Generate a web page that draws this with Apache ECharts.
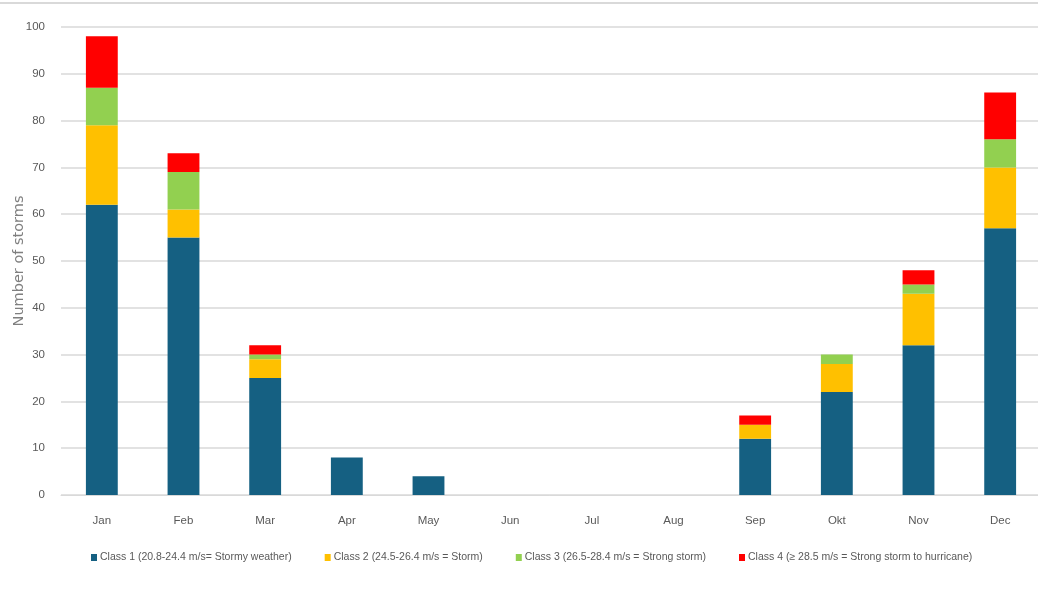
<!DOCTYPE html>
<html><head><meta charset="utf-8">
<script src="https://cdn.jsdelivr.net/npm/echarts@6/dist/echarts.min.js"></script>
<style>html,body{margin:0;padding:0;background:#fff}#c{width:1038px;height:589px}</style>
</head><body><div id="c"></div>
<script>
const months = ['Jan','Feb','Mar','Apr','May','Jun','Jul','Aug','Sep','Okt','Nov','Dec'];
const class1 = [62, 55, 25, 8, 4, 0, 0, 0, 12, 22, 32, 57];
const class2 = [17, 6, 4, 0, 0, 0, 0, 0, 3, 6, 11, 13];
const class3 = [8, 8, 1, 0, 0, 0, 0, 0, 0, 2, 2, 6];
const class4 = [11, 4, 2, 0, 0, 0, 0, 0, 2, 0, 3, 10];
const seriesNames = [
  'Class 1 (20.8-24.4 m/s= Stormy weather)',
  'Class 2 (24.5-26.4 m/s = Storm)',
  'Class 3 (26.5-28.4 m/s = Strong storm)',
  'Class 4 (\u2265 28.5 m/s = Strong storm to hurricane)'
];
const yTicks = [0,10,20,30,40,50,60,70,80,90,100];
const colors = ['#156082','#FFC000','#92D050','#FF0000'];
const FONT = "'Liberation Sans Narrow','Liberation Sans',sans-serif";
const chart = echarts.init(document.getElementById('c'), null, {renderer:'canvas'});
const data = [class1, class2, class3, class4];
chart.setOption({
  animation: false,
  color: colors,
  graphic: [{type:'line', shape:{x1:0,y1:3,x2:1038,y2:3}, style:{stroke:'#d9d9d9', lineWidth:2}}],
  grid: {left: 61, width: 980, top: 27, bottom: 94, containLabel: false, outerBoundsMode: 'none'},
  legend: {
    bottom: 21, left: 86, itemWidth: 6, itemHeight: 7, itemGap: 33, icon: 'rect',
    textStyle: {color: '#595959', fontSize: 10.5, fontFamily: FONT, padding:[0,0,0,-2]},
    data: seriesNames
  },
  xAxis: {
    type: 'category', data: months,
    axisLine: {show: true, lineStyle: {color: '#d9d9d9'}}, axisTick: {show: false},
    axisLabel: {color: '#595959', fontSize: 11.5, fontFamily: FONT, margin: 20}
  },
  yAxis: {
    type: 'value', min: yTicks[0], max: yTicks[yTicks.length-1], interval: 10,
    name: 'Number of storms', nameLocation: 'middle', nameGap: 34, nameRotate: 90,
    nameMoveOverlap: false,
    nameTextStyle: {color: '#7f7f7f', fontSize: 14.5, fontFamily: "'DejaVu Sans',sans-serif"},
    axisLine: {show: false}, axisTick: {show: false},
    axisLabel: {color: '#595959', fontSize: 11.5, fontFamily: FONT, margin: 16},
    splitLine: {lineStyle: {color: '#d9d9d9', width: 1.5}}
  },
  series: data.map((d, i) => ({
    name: seriesNames[i], type: 'bar', stack: 'total', data: d,
    barWidth: '39%', itemStyle: {color: colors[i]}
  }))
});
</script></body></html>
